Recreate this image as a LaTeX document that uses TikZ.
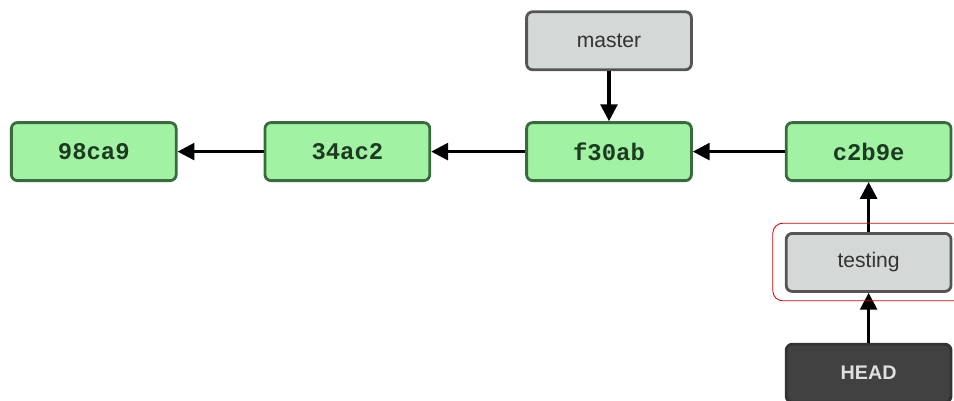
\documentclass[tikz,border=0pt]{standalone}
\usepackage{fontspec}
\setsansfont{Liberation Sans}
\setmonofont{Liberation Mono}
\usetikzlibrary{positioning,calc,arrows.meta}
\definecolor{cmfill}{HTML}{A2F2A4}
\definecolor{cmline}{HTML}{3A6B3E}
\definecolor{cmtext}{HTML}{1E3A22}
\definecolor{brfill}{HTML}{D4D8D7}
\definecolor{brline}{HTML}{555555}
\definecolor{hdfill}{HTML}{414141}
\tikzset{
  commit/.style={rectangle, rounded corners=1.5mm, minimum width=4.12cm, minimum height=1.45cm, text centered, draw=cmline, line width=2pt, fill=cmfill, text=cmtext, font=\ttfamily\bfseries\fontsize{17}{19}\selectfont},
  branch/.style={rectangle, rounded corners=1.5mm, minimum width=4.12cm, minimum height=1.45cm, text centered, draw=brline, line width=2pt, fill=brfill, text=black!80, font=\sffamily\fontsize{15}{18}\selectfont},
  headref/.style={branch, draw=black!80, fill=hdfill, text=black!12, font=\sffamily\bfseries\fontsize{14}{17}\selectfont},
  ln/.style={line width=2.2pt, -{Triangle[length=4.2mm,width=4.2mm]}},
  hilite/.style={red!85!black, line width=0.6pt, rounded corners=2.5mm},
  node distance=1.25cm
}
\begin{document}
\begin{tikzpicture}
	\useasboundingbox (0,0) rectangle (23.85,-10.025);
	\node[commit] (f30ab) at (15.225,-3.79) {f30ab};
	\node[branch, above=of f30ab] (master) {master};
	\node[commit, left=2.35cm of f30ab] (34ac2) {34ac2};
	\node[commit, left=2.15cm of 34ac2] (98ca9) {98ca9};
	\node[commit, right=2.3cm of f30ab] (c2b9e) {c2b9e};
	\node[branch, below=of c2b9e] (testing) {testing};
	\node[headref, below=of testing] (head) {HEAD};
	%
	\draw[ln] (master) -- (f30ab);
	\draw[ln] (c2b9e) -- (f30ab);
	\draw[ln] (f30ab) -- (34ac2);
	\draw[ln] (34ac2) -- (98ca9);
	\draw[ln] (testing) -- (c2b9e);
	\draw[ln] (head) -- (testing);
	\draw[hilite] ($(testing.north west)+(-0.3,0.22)$) rectangle ($(testing.south east)+(0.6,-0.2)$);
\end{tikzpicture}
\end{document}
